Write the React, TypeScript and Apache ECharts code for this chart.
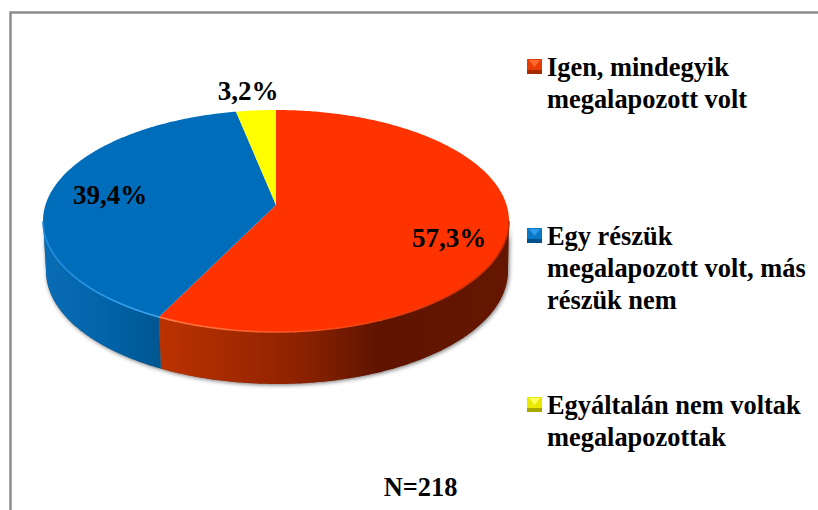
import React, { useEffect, useRef } from "react";
import * as echarts from "echarts";

const categories = ["Igen, mindegyik\nmegalapozott volt", "Egy részük\nmegalapozott volt, más\nrészük nem", "Egyáltalán nem voltak\nmegalapozottak"];
const values = [57.3, 39.4, 3.2];
const valueLabels = ["57,3%", "39,4%", "3,2%"];
const sampleNote = "N=218";

const FONT = '"Liberation Serif", "Times New Roman", serif';
const cx = 276, cy = 221, rx = 233, ry = 111, apexY = 205;
const bx = 277, by = 271, brx = 231, bry = 113;
const total = values.reduce((a, b) => a + b, 0);

// Where a slice edge at pie angle theta (clockwise from top) meets the outer ellipse; returns the ellipse parameter.
function edgeParam(theta: number) {
  const dx = rx * Math.sin(theta), dy = -ry * Math.cos(theta), off = apexY - cy;
  const a = (dx * dx) / (rx * rx) + (dy * dy) / (ry * ry);
  const b = (2 * dy * off) / (ry * ry);
  const c = (off * off) / (ry * ry) - 1;
  const k = (-b + Math.sqrt(b * b - 4 * a * c)) / (2 * a);
  return Math.atan2((off + dy * k) / ry, (dx * k) / rx);
}
const arc = (t0: number, t1: number) => {
  const pts: number[][] = [];
  const n = Math.max(2, Math.ceil(Math.abs(t1 - t0) / 0.01));
  for (let i = 0; i <= n; i++) {
    const t = t0 + ((t1 - t0) * i) / n;
    pts.push([cx + rx * Math.cos(t), cy + ry * Math.sin(t)]);
  }
  return pts;
};
const bottomArc = (t0: number, t1: number) => {
  const pts: number[][] = [];
  const n = Math.max(2, Math.ceil(Math.abs(t1 - t0) / 0.01));
  for (let i = 0; i <= n; i++) {
    const t = t0 + ((t1 - t0) * i) / n;
    pts.push([bx + brx * Math.cos(t), by + bry * Math.sin(t)]);
  }
  return pts;
};

const topColors = ["#FF3300", "#006DBB", "#FFFF00"];
const rimStops = [
  [[0, "#FF7A48"], [0.5, "#F84A18"], [1, "#C42A00"]],
  [[0, "#1F8CDC"], [0.6, "#2C9CEE"], [1, "#3FA8F5"]],
  [[0, "#FFFF00"], [1, "#FFFF00"]],
];
const wallStops = [
  [[0, "#BC3200"], [0.4, "#8E2200"], [0.62, "#601400"], [1, "#641600"]],
  [[0, "#0A6CB4"], [0.6, "#0062A6"], [1, "#00568F"]],
  [[0, "#AAAA00"], [1, "#AAAA00"]],
];
const labelPos = [[449, 238], [110, 195], [248, 91]];
const legendY = [59, 228, 397];
const legendBevel = [
  ["#FF6A30", "#E63C08", "#A82A00"],
  ["#2E9BEA", "#0A78C6", "#00508C"],
  ["#FFFF60", "#E8E800", "#A8A800"],
];
const grad = (stops: any[]) =>
  new echarts.graphic.LinearGradient(0, 0, 1, 0, stops.map(([offset, color]) => ({ offset, color })) as any);

export default function App() {
  const ref = useRef<HTMLDivElement>(null);
  useEffect(() => {
    document.body.style.margin = "0";
    const chart = echarts.init(ref.current!, null, { renderer: "svg" });
    const legendChildren: any[] = [];
    categories.forEach((name, i) => {
      const x = 527, y = legendY[i], s = 15, m = 8, c = legendBevel[i];
      const tri = (pts: number[][], fill: string) => legendChildren.push({ type: "polygon", shape: { points: pts }, style: { fill } });
      tri([[x, y], [x + s, y], [x + s, y + s], [x, y + s]], c[1]);
      tri([[x + 2, y + 1], [x + s - 2, y + 1], [x + m - 0.5, y + m]], c[0]);
      tri([[x, y + s], [x + s, y + s], [x + s, y + s - 4], [x, y + s - 4]], c[2]);
      legendChildren.push({
        type: "text", x: 547, y: y - 8,
        style: { text: name, font: `bold 26.4px ${FONT}`, lineHeight: 32, fill: "#000", textVerticalAlign: "top" },
      });
    });
    chart.setOption({
      animation: false,
      backgroundColor: "#fff",
      graphic: [
        { type: "polyline", z: 0, shape: { points: [[10.5, 510], [10.5, 12.5], [818, 12.5]] }, style: { stroke: "#8C8C8C", lineWidth: 2.5, fill: "none" } },
        ...legendChildren.map((e) => ({ ...e, z: 5 })),
        { type: "text", z: 5, x: 420.5, y: 487, style: { text: sampleNote, font: `bold 26.4px ${FONT}`, fill: "#000", textAlign: "center", textVerticalAlign: "middle" } },
      ],
      series: [{
        type: "custom",
        coordinateSystem: "none",
        silent: true,
        data: values,
        renderItem: (params: any, api: any) => {
          const i = params.dataIndex;
          let before = 0;
          for (let j = 0; j < i; j++) before += values[j];
          const th0 = (before / total) * 2 * Math.PI;
          const th1 = ((before + api.value(0)) / total) * 2 * Math.PI;
          const t0 = edgeParam(th0);
          let t1 = edgeParam(th1);
          while (t1 < t0) t1 += 2 * Math.PI;
          const children: any[] = [];
          const lo = Math.max(t0, 0), hi = Math.min(t1, Math.PI);
          if (hi > lo) {
            const points = [...arc(lo, hi), ...bottomArc(hi, lo)];
            children.push({
              type: "polygon", z2: -1,
              shape: { points },
              style: { fill: "#777", shadowColor: "rgba(0,0,0,0.55)", shadowBlur: 4, shadowOffsetX: 1, shadowOffsetY: 1 },
            });
            children.push({ type: "polygon", z2: 0, shape: { points }, style: { fill: grad(wallStops[i]) } });
          }
          children.push({
            type: "polygon", z2: 1,
            shape: { points: [[cx, apexY], ...arc(t0, t1)] },
            style: { fill: topColors[i] },
          });
          if (hi > lo) {
            children.push({ type: "polyline", z2: 2, shape: { points: arc(lo, hi) }, style: { stroke: grad(rimStops[i]), lineWidth: 1.6, fill: "none" } });
          }
          children.push({
            type: "text", x: labelPos[i][0], y: labelPos[i][1], z2: 10,
            style: { text: valueLabels[i], font: `bold 27px ${FONT}`, fill: "#000", textAlign: "center", textVerticalAlign: "middle" },
          });
          return { type: "group", children };
        },
      }],
    });
    return () => chart.dispose();
  }, []);
  return <div ref={ref} style={{ position: "fixed", left: 0, top: 0, width: 818, height: 510 }} />;
}
